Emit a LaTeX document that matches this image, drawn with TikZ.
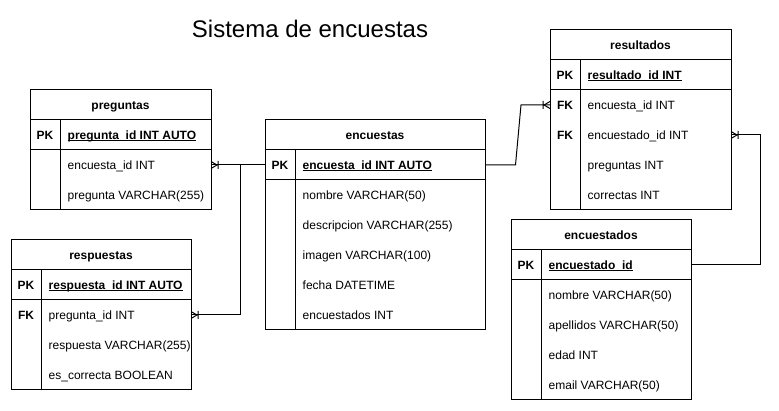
\documentclass[tikz,border=0pt]{standalone}
\usepackage{fontspec}
\setmainfont{Liberation Sans}
\pgfdeclarearrow{
  name = crow,
  setup code = {
    \pgfarrowssettipend{0pt}
    \pgfarrowssetlineend{0pt}
    \pgfarrowssetbackend{-7.5pt}
    \pgfarrowshullpoint{0pt}{4pt}
    \pgfarrowshullpoint{0pt}{-4pt}
    \pgfarrowshullpoint{-7.5pt}{4pt}
    \pgfarrowshullpoint{-7.5pt}{-4pt}
  },
  drawing code = {
    \pgfsetdash{}{0pt}
    \pgfpathmoveto{\pgfqpoint{0pt}{3.5pt}}
    \pgfpathlineto{\pgfqpoint{-6pt}{0pt}}
    \pgfpathlineto{\pgfqpoint{0pt}{-3.5pt}}
    \pgfpathmoveto{\pgfqpoint{-7pt}{4pt}}
    \pgfpathlineto{\pgfqpoint{-7pt}{-4pt}}
    \pgfusepathqstroke
  }
}
\newcommand\myul[1]{\setbox0=\hbox{#1}\rlap{\copy0}\rule[-1.6pt]{\wd0}{0.9pt}}
\newcommand\tablines[3]{%
  \draw[tline] (#1.north west) ++(0,30) -- ++(#2,0);
  \draw[tline] (#1.north west) ++(0,60) -- ++(#2,0);
  \draw[tline] (#1.north west) ++(30,30) -- ++(0,#3-30);
}
\tikzset{
  tbl/.style={draw, line width=1pt, inner sep=0pt, outer sep=0pt, anchor=north west},
  tline/.style={line width=1pt},
  txt/.style={inner sep=0pt, text height=8.6pt, text depth=0pt, font=\fontsize{12}{14}\selectfont},
  hdr/.style={txt, font=\fontsize{12}{14}\selectfont\bfseries},
  keyc/.style={txt, font=\fontsize{12}{14}\selectfont\bfseries},
  fld/.style={txt, anchor=west},
  pkfld/.style={txt, anchor=west, font=\fontsize{12}{14}\selectfont\bfseries},
  conn/.style={line width=1pt},
}
\begin{document}
\begin{tikzpicture}[x=1pt,y=-1pt]
\useasboundingbox[fill=white] (0,0) rectangle (779,411);

\node[inner sep=0pt, anchor=base, font=\fontsize{24}{28}\selectfont] (title) at (310,38) {Sistema de encuestas};

% preguntas
\node[tbl, minimum width=181pt, minimum height=120pt] (preg) at (30,90) {};
\tablines{preg}{181}{120}
\node[hdr] (preg-h) at (120.5,105) {preguntas};
\node[keyc] (preg-kpk) at (45,135) {PK};
\node[pkfld] (preg-pk) at (67.5,135) {\myul{pregunta\_id INT AUTO}};
\node[fld] (preg-r1) at (67.5,165) {encuesta\_id INT};
\node[fld] (preg-r2) at (67.5,195) {pregunta VARCHAR(255)};

% respuestas
\node[tbl, minimum width=180pt, minimum height=150pt] (resp) at (11,240) {};
\tablines{resp}{180}{150}
\node[hdr] (resp-h) at (101,255) {respuestas};
\node[keyc] (resp-kpk) at (26,285) {PK};
\node[pkfld] (resp-pk) at (48.5,285) {\myul{respuesta\_id INT AUTO}};
\node[keyc] (resp-k1) at (26,315) {FK};
\node[fld] (resp-r1) at (48.5,315) {pregunta\_id INT};
\node[fld] (resp-r2) at (48.5,345) {respuesta VARCHAR(255)};
\node[fld] (resp-r3) at (48.5,375) {es\_correcta BOOLEAN};

% encuestas
\node[tbl, minimum width=220pt, minimum height=210pt] (enc) at (265,120) {};
\tablines{enc}{220}{210}
\node[hdr] (enc-h) at (375,135) {encuestas};
\node[keyc] (enc-kpk) at (280,165) {PK};
\node[pkfld] (enc-pk) at (302.5,165) {\myul{encuesta\_id INT AUTO}};
\node[fld] (enc-r1) at (302.5,195) {nombre VARCHAR(50)};
\node[fld] (enc-r2) at (302.5,225) {descripcion VARCHAR(255)};
\node[fld] (enc-r3) at (302.5,255) {imagen VARCHAR(100)};
\node[fld] (enc-r4) at (302.5,285) {fecha DATETIME};
\node[fld] (enc-r5) at (302.5,315) {encuestados INT};

% resultados
\node[tbl, minimum width=181pt, minimum height=180pt] (res) at (550,30) {};
\tablines{res}{181}{180}
\node[hdr] (res-h) at (640.5,45) {resultados};
\node[keyc] (res-kpk) at (565,75) {PK};
\node[pkfld] (res-pk) at (587.5,75) {\myul{resultado\_id INT}};
\node[keyc] (res-k1) at (565,105) {FK};
\node[fld] (res-r1) at (587.5,105) {encuesta\_id INT};
\node[keyc] (res-k2) at (565,135) {FK};
\node[fld] (res-r2) at (587.5,135) {encuestado\_id INT};
\node[fld] (res-r3) at (587.5,165) {preguntas INT};
\node[fld] (res-r4) at (587.5,195) {correctas INT};

% encuestados
\node[tbl, minimum width=180pt, minimum height=180pt] (encd) at (511,220) {};
\tablines{encd}{180}{180}
\node[hdr] (encd-h) at (601,235) {encuestados};
\node[keyc] (encd-kpk) at (526,265) {PK};
\node[pkfld] (encd-pk) at (548.5,265) {\myul{encuestado\_id}};
\node[fld] (encd-r1) at (548.5,295) {nombre VARCHAR(50)};
\node[fld] (encd-r2) at (548.5,325) {apellidos VARCHAR(50)};
\node[fld] (encd-r3) at (548.5,355) {edad INT};
\node[fld] (encd-r4) at (548.5,385) {email VARCHAR(50)};

% connectors
\coordinate (junc) at (240.5,165);
\draw[conn, crow-] (preg-r1 -| preg.east) -- (enc-pk -| enc.west);
\draw[conn, crow-] (resp-r1 -| resp.east) -| (junc);
\draw[conn, -crow] (enc-pk -| enc.east) -- (515.5,165) -- (521,105) -- (res-r1 -| res.west);
\draw[conn, -crow] (encd-pk -| encd.east) -- (760.5,265) |- (res-r2 -| res.east);
\end{tikzpicture}
\end{document}
